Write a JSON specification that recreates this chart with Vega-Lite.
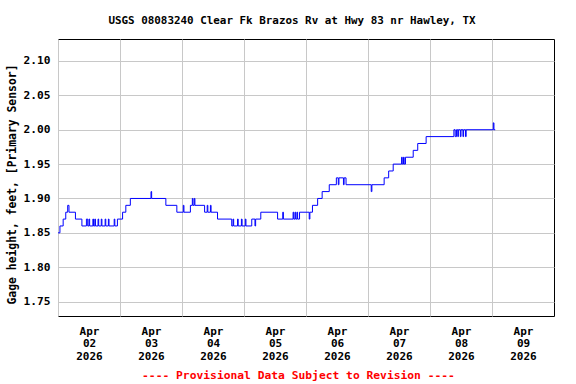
{
  "$schema": "https://vega.github.io/schema/vega-lite/v6.json",
  "autosize": "none",
  "width": 496,
  "height": 277,
  "padding": {"left": 58, "top": 39, "right": 22, "bottom": 68},
  "background": "white",
  "title": {
    "text": "USGS 08083240 Clear Fk Brazos Rv at Hwy 83 nr Hawley, TX",
    "font": "DejaVu Sans Mono",
    "fontSize": 10.9,
    "fontWeight": "bold",
    "color": "black",
    "anchor": "middle",
    "frame": "group",
    "baseline": "middle",
    "offset": 7,
    "dx": -14
  },
  "config": {
    "view": {"stroke": "black", "strokeWidth": 1},
    "axis": {
      "labelFont": "DejaVu Sans Mono",
      "labelFontWeight": "bold",
      "labelColor": "black",
      "titleFont": "DejaVu Sans Mono",
      "titleFontWeight": "bold",
      "gridColor": "#c8c8c8",
      "gridOpacity": 1,
      "gridWidth": 1,
      "domain": false,
      "ticks": false
    }
  },
  "data": {
    "values": [
      {"t": "2026-04-02T00:00", "v": 1.85},
      {"t": "2026-04-02T00:45", "v": 1.86},
      {"t": "2026-04-02T02:00", "v": 1.87},
      {"t": "2026-04-02T03:00", "v": 1.88},
      {"t": "2026-04-02T03:45", "v": 1.89},
      {"t": "2026-04-02T04:15", "v": 1.88},
      {"t": "2026-04-02T06:45", "v": 1.87},
      {"t": "2026-04-02T09:15", "v": 1.86},
      {"t": "2026-04-02T11:00", "v": 1.87},
      {"t": "2026-04-02T11:30", "v": 1.86},
      {"t": "2026-04-02T12:00", "v": 1.87},
      {"t": "2026-04-02T12:15", "v": 1.86},
      {"t": "2026-04-02T13:30", "v": 1.87},
      {"t": "2026-04-02T13:45", "v": 1.86},
      {"t": "2026-04-02T14:15", "v": 1.87},
      {"t": "2026-04-02T14:30", "v": 1.86},
      {"t": "2026-04-02T15:30", "v": 1.87},
      {"t": "2026-04-02T15:45", "v": 1.86},
      {"t": "2026-04-02T16:45", "v": 1.87},
      {"t": "2026-04-02T17:00", "v": 1.86},
      {"t": "2026-04-02T18:15", "v": 1.87},
      {"t": "2026-04-02T18:30", "v": 1.86},
      {"t": "2026-04-02T19:30", "v": 1.87},
      {"t": "2026-04-02T19:45", "v": 1.86},
      {"t": "2026-04-02T21:45", "v": 1.87},
      {"t": "2026-04-02T22:00", "v": 1.86},
      {"t": "2026-04-02T23:00", "v": 1.87},
      {"t": "2026-04-03T01:00", "v": 1.88},
      {"t": "2026-04-03T02:15", "v": 1.89},
      {"t": "2026-04-03T04:00", "v": 1.90},
      {"t": "2026-04-03T12:00", "v": 1.91},
      {"t": "2026-04-03T12:15", "v": 1.90},
      {"t": "2026-04-03T17:45", "v": 1.89},
      {"t": "2026-04-03T22:00", "v": 1.88},
      {"t": "2026-04-04T00:30", "v": 1.89},
      {"t": "2026-04-04T00:45", "v": 1.88},
      {"t": "2026-04-04T03:15", "v": 1.89},
      {"t": "2026-04-04T04:00", "v": 1.90},
      {"t": "2026-04-04T04:15", "v": 1.89},
      {"t": "2026-04-04T04:45", "v": 1.90},
      {"t": "2026-04-04T05:00", "v": 1.89},
      {"t": "2026-04-04T08:45", "v": 1.88},
      {"t": "2026-04-04T09:45", "v": 1.89},
      {"t": "2026-04-04T10:00", "v": 1.88},
      {"t": "2026-04-04T11:00", "v": 1.89},
      {"t": "2026-04-04T11:15", "v": 1.88},
      {"t": "2026-04-04T13:45", "v": 1.87},
      {"t": "2026-04-04T19:15", "v": 1.86},
      {"t": "2026-04-04T19:45", "v": 1.87},
      {"t": "2026-04-04T20:00", "v": 1.86},
      {"t": "2026-04-04T21:30", "v": 1.87},
      {"t": "2026-04-04T21:45", "v": 1.86},
      {"t": "2026-04-04T23:00", "v": 1.87},
      {"t": "2026-04-04T23:15", "v": 1.86},
      {"t": "2026-04-05T00:30", "v": 1.87},
      {"t": "2026-04-05T00:45", "v": 1.86},
      {"t": "2026-04-05T03:00", "v": 1.87},
      {"t": "2026-04-05T04:15", "v": 1.86},
      {"t": "2026-04-05T04:30", "v": 1.87},
      {"t": "2026-04-05T06:30", "v": 1.88},
      {"t": "2026-04-05T13:00", "v": 1.87},
      {"t": "2026-04-05T15:00", "v": 1.88},
      {"t": "2026-04-05T15:15", "v": 1.87},
      {"t": "2026-04-05T19:00", "v": 1.88},
      {"t": "2026-04-05T19:15", "v": 1.87},
      {"t": "2026-04-05T19:45", "v": 1.88},
      {"t": "2026-04-05T20:00", "v": 1.87},
      {"t": "2026-04-05T20:30", "v": 1.88},
      {"t": "2026-04-05T20:45", "v": 1.87},
      {"t": "2026-04-05T21:30", "v": 1.88},
      {"t": "2026-04-06T01:15", "v": 1.87},
      {"t": "2026-04-06T01:30", "v": 1.88},
      {"t": "2026-04-06T02:30", "v": 1.89},
      {"t": "2026-04-06T04:30", "v": 1.90},
      {"t": "2026-04-06T06:15", "v": 1.91},
      {"t": "2026-04-06T09:00", "v": 1.92},
      {"t": "2026-04-06T11:45", "v": 1.93},
      {"t": "2026-04-06T12:30", "v": 1.92},
      {"t": "2026-04-06T12:45", "v": 1.93},
      {"t": "2026-04-06T14:30", "v": 1.92},
      {"t": "2026-04-06T14:45", "v": 1.93},
      {"t": "2026-04-06T15:30", "v": 1.92},
      {"t": "2026-04-07T01:15", "v": 1.91},
      {"t": "2026-04-07T01:30", "v": 1.92},
      {"t": "2026-04-07T06:15", "v": 1.93},
      {"t": "2026-04-07T08:00", "v": 1.94},
      {"t": "2026-04-07T09:45", "v": 1.95},
      {"t": "2026-04-07T13:00", "v": 1.96},
      {"t": "2026-04-07T13:15", "v": 1.95},
      {"t": "2026-04-07T13:45", "v": 1.96},
      {"t": "2026-04-07T14:00", "v": 1.95},
      {"t": "2026-04-07T14:30", "v": 1.96},
      {"t": "2026-04-07T17:30", "v": 1.97},
      {"t": "2026-04-07T19:15", "v": 1.98},
      {"t": "2026-04-07T22:30", "v": 1.99},
      {"t": "2026-04-08T09:15", "v": 2.00},
      {"t": "2026-04-08T09:45", "v": 1.99},
      {"t": "2026-04-08T10:15", "v": 2.00},
      {"t": "2026-04-08T10:45", "v": 1.99},
      {"t": "2026-04-08T11:00", "v": 2.00},
      {"t": "2026-04-08T11:45", "v": 1.99},
      {"t": "2026-04-08T12:00", "v": 2.00},
      {"t": "2026-04-08T12:45", "v": 1.99},
      {"t": "2026-04-08T13:00", "v": 2.00},
      {"t": "2026-04-08T13:45", "v": 1.99},
      {"t": "2026-04-08T14:00", "v": 2.00},
      {"t": "2026-04-09T00:30", "v": 2.01},
      {"t": "2026-04-09T00:45", "v": 2.00},
      {"t": "2026-04-09T01:15", "v": 2.00}
    ]
  },
  "mark": {"type": "line", "interpolate": "step-after", "color": "#0000ff", "strokeWidth": 1},
  "encoding": {
    "x": {
      "field": "t",
      "type": "temporal",
      "scale": {
        "domain": [
          {"year": 2026, "month": "apr", "date": 2},
          {"year": 2026, "month": "apr", "date": 10}
        ],
        "nice": false
      },
      "axis": {
        "values": [
          {"year": 2026, "month": "apr", "date": 2},
          {"year": 2026, "month": "apr", "date": 3},
          {"year": 2026, "month": "apr", "date": 4},
          {"year": 2026, "month": "apr", "date": 5},
          {"year": 2026, "month": "apr", "date": 6},
          {"year": 2026, "month": "apr", "date": 7},
          {"year": 2026, "month": "apr", "date": 8},
          {"year": 2026, "month": "apr", "date": 9}
        ],
        "labelExpr": "[timeFormat(datum.value, '%b'), timeFormat(datum.value, '%d'), timeFormat(datum.value, '%Y')]",
        "labelOffset": 31,
        "labelAlign": "center",
        "labelBaseline": "top",
        "labelFontSize": 11,
        "labelLineHeight": 12.7,
        "labelPadding": 9,
        "labelOverlap": false,
        "labelFlush": false,
        "title": "---- Provisional Data Subject to Revision ----",
        "titleColor": "#ff0000",
        "titleFontSize": 11.3,
        "titleX": 240,
        "titleY": 59,
        "titleBaseline": "middle",
        "titleAlign": "center"
      }
    },
    "y": {
      "field": "v",
      "type": "quantitative",
      "scale": {"domain": [1.729, 2.132], "nice": false, "zero": false},
      "axis": {
        "values": [1.75, 1.80, 1.85, 1.90, 1.95, 2.00, 2.05, 2.10],
        "format": ".2f",
        "labelFontSize": 11.2,
        "labelPadding": 8,
        "title": "Gage height, feet, [Primary Sensor]",
        "titleFontSize": 11.4,
        "titleAngle": 270,
        "titleX": -46,
        "titleY": 145,
        "titleBaseline": "middle",
        "titleAlign": "center"
      }
    }
  }
}
